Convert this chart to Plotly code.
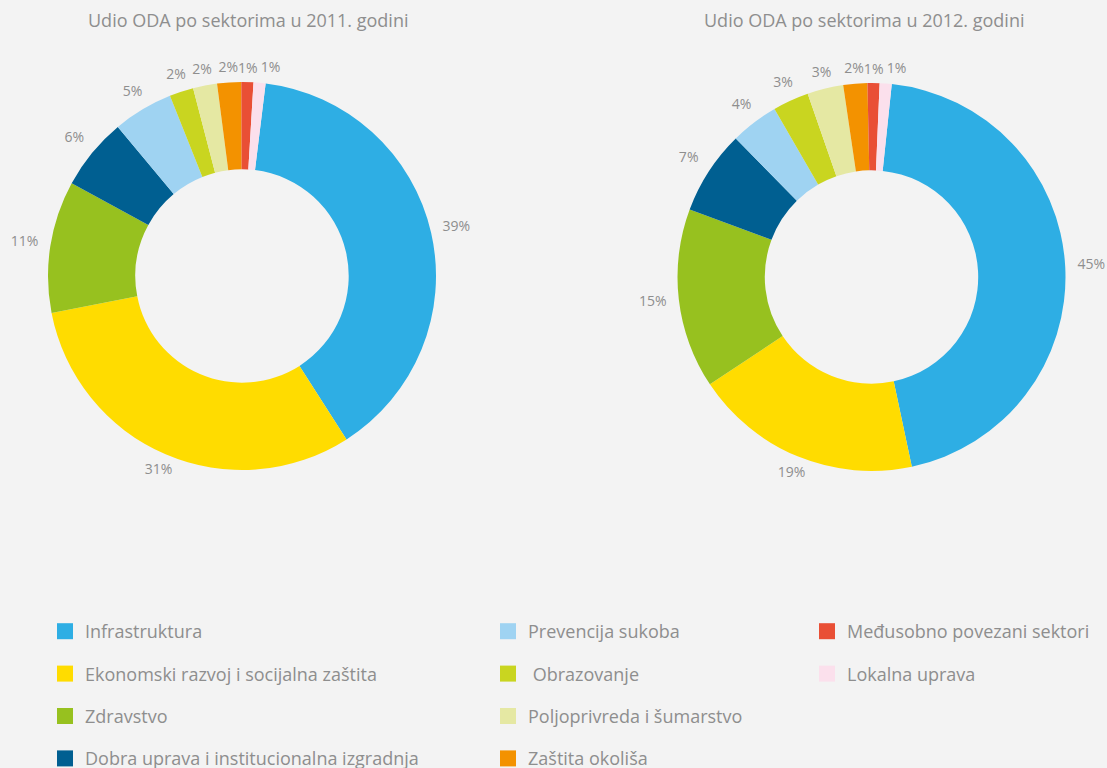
import math
import plotly.graph_objects as go

sectors = [
    "Infrastruktura",
    "Ekonomski razvoj i socijalna zaštita",
    "Zdravstvo",
    "Dobra uprava i institucionalna izgradnja",
    "Prevencija sukoba",
    " Obrazovanje",
    "Poljoprivreda i šumarstvo",
    "Zaštita okoliša",
    "Međusobno povezani sektori",
    "Lokalna uprava",
]
colors = ["#2eaee4", "#ffdc00", "#97c11f", "#005f91", "#9fd3f2",
          "#c9d520", "#e5e8a3", "#f39200", "#e94f35", "#fbe0ec"]
share_2011 = [39, 31, 11, 6, 5, 2, 2, 2, 1, 1]
share_2012 = [45, 19, 15, 7, 4, 3, 3, 2, 1, 1]
titles = ["Udio ODA po sektorima u 2011. godini", "Udio ODA po sektorima u 2012. godini"]
legend_columns = [[0, 1, 2, 3], [4, 5, 6, 7], [8, 9]]

W, H = 1107, 768
BG = "#f3f3f3"
TXT = "#8e8e8e"
FONT = "Open Sans, Noto Sans, sans-serif"
RMAX = 1.2

fig = go.Figure()

def dom(cx, cy, r):
    return dict(x=[(cx - r) / W, (cx + r) / W], y=[1 - (cy + r) / H, 1 - (cy - r) / H])

pies = [(share_2011, (242, 276), 7, "polar"),
        (share_2012, (871.5, 277), 6, "polar2")]
R = 194

for vals, (cx, cy), rot, pol in pies:
    fig.add_trace(go.Pie(
        labels=sectors, values=vals, sort=False, direction="clockwise", rotation=rot,
        hole=0.55, domain=dom(cx, cy, R), marker=dict(colors=colors, line=dict(width=0)),
        textinfo="none", showlegend=False, hoverinfo="label+value",
    ))
    # percentage labels placed at each slice's mid-angle on a polar overlay
    total = sum(vals)
    cum = 0
    thetas, radii, texts, tpos = [], [], [], []
    for k, v in enumerate(vals):
        mid = rot + (cum + v / 2) / total * 360
        cum += v
        thetas.append(mid)
        s = abs(math.sin(math.radians(mid)))
        radii.append(1.065 + 0.07 * s)
        texts.append(f"{v}%")
        tpos.append("middle right" if k == len(vals) - 1 else "middle center")
    fig.add_trace(go.Scatterpolar(
        r=radii, theta=thetas, text=texts, mode="text", subplot=pol,
        textposition=tpos,
        textfont=dict(color=TXT, size=14, family=FONT),
        cliponaxis=False, showlegend=False, hoverinfo="skip",
    ))

polar_style = dict(
    bgcolor="rgba(0,0,0,0)",
    radialaxis=dict(range=[0, RMAX], visible=False),
    angularaxis=dict(rotation=90, direction="clockwise", visible=False),
)
fig.update_layout(
    polar=dict(domain=dom(*pies[0][1], R * RMAX), **polar_style),
    polar2=dict(domain=dom(*pies[1][1], R * RMAX), **polar_style),
)

legend_names = ["legend", "legend2", "legend3"]
for ci, col in enumerate(legend_columns):
    for i in col:
        fig.add_trace(go.Scatter(
            x=[None], y=[None], mode="markers", name=sectors[i],
            marker=dict(symbol="square", size=20, color=colors[i]),
            legend=legend_names[ci], legendgroup=sectors[i], showlegend=True,
        ))

legend_style = dict(font=dict(size=18, color=TXT, family=FONT), bgcolor="rgba(0,0,0,0)",
                    yanchor="top", xanchor="left", tracegroupgap=16,
                    traceorder="grouped", itemclick=False, itemdoubleclick=False)
ly = 1 - 613 / H
fig.update_layout(
    legend=dict(x=45 / W, y=ly, **legend_style),
    legend2=dict(x=488 / W, y=ly, **legend_style),
    legend3=dict(x=807 / W, y=ly, **legend_style),
)

for t, cx in zip(titles, [247.5, 864]):
    fig.add_annotation(text=t, x=cx / W, y=1 - 20 / H, xref="paper", yref="paper",
                       showarrow=False, xanchor="center", yanchor="middle",
                       font=dict(size=18, color=TXT, family=FONT))

fig.update_layout(
    width=W, height=H, paper_bgcolor=BG, plot_bgcolor=BG,
    margin=dict(l=0, r=0, t=0, b=0, autoexpand=False),
    xaxis=dict(visible=False), yaxis=dict(visible=False),
)
fig.write_html("out.html", config={"displayModeBar": False},
               post_script="document.body.style.margin='0';")
